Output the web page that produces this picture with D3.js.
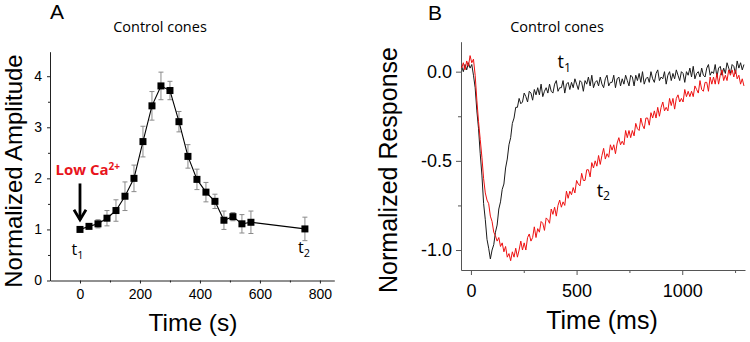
<!DOCTYPE html>
<html><head><meta charset="utf-8">
<script src="https://cdn.jsdelivr.net/npm/d3@7"></script>
<style>body{margin:0;background:#fff}svg{display:block}</style>
</head><body><svg id="c" width="750" height="342"></svg>
<script>
// ---------- Panel A data ----------
const ampTime  = [0,30,60,90,120,150,180,210,240,270,300,330,360,390,420,450,480,510,540,570,750];
const ampValue = [1.00,1.06,1.11,1.22,1.37,1.65,2.00,2.72,3.42,3.81,3.72,3.11,2.43,1.98,1.73,1.55,1.18,1.25,1.11,1.14,1.01];
const ampError = [0.02,0.03,0.08,0.15,0.21,0.28,0.26,0.30,0.28,0.27,0.18,0.20,0.23,0.20,0.19,0.14,0.18,0.08,0.18,0.22,0.23];
const ampXTicks = [0,200,400,600,800];
const ampXMinor = [100,300,500,700];
const ampYTicks = [0,1,2,3,4];
const ampYMinor = [0.5,1.5,2.5,3.5];

// ---------- Panel B data ----------
const respTimeStart = -44, respTimeStep = 8;   // ms, sampling grid
const respT1 = [0.03,0.00,0.04,0.01,0.05,0.02,0.04,-0.02,-0.09,-0.22,
-0.32,-0.46,-0.58,-0.74,-0.83,-0.94,-0.99,-1.05,-1.00,-0.97,
-0.90,-0.86,-0.77,-0.73,-0.66,-0.63,-0.54,-0.49,-0.41,-0.37,
-0.29,-0.26,-0.20,-0.20,-0.15,-0.18,-0.17,-0.12,-0.14,-0.17,
-0.11,-0.12,-0.16,-0.10,-0.13,-0.09,-0.13,-0.07,-0.14,-0.11,
-0.09,-0.12,-0.07,-0.11,-0.12,-0.07,-0.05,-0.11,-0.09,-0.09,
-0.05,-0.12,-0.07,-0.06,-0.10,-0.06,-0.09,-0.04,-0.07,-0.10,
-0.05,-0.06,-0.11,-0.05,-0.07,-0.03,-0.08,-0.02,-0.09,-0.06,
-0.05,-0.08,-0.03,-0.07,-0.09,-0.04,-0.02,-0.08,-0.06,-0.06,
-0.02,-0.09,-0.04,-0.03,-0.08,-0.04,-0.07,-0.02,-0.05,-0.08,
-0.02,-0.03,-0.08,-0.02,-0.05,-0.01,-0.06,0.00,-0.07,-0.04,
-0.03,-0.06,0.00,-0.04,-0.06,-0.01,0.01,-0.05,-0.03,-0.04,
0.00,-0.07,-0.02,0.00,-0.05,-0.01,-0.04,0.01,-0.02,-0.05,
0.00,-0.01,-0.06,0.00,-0.02,0.02,-0.03,0.03,-0.04,-0.01,
0.00,-0.03,0.02,-0.02,-0.03,0.02,0.04,-0.02,0.00,-0.01,
0.04,-0.03,0.02,0.03,-0.02,0.02,-0.01,0.05,0.02,-0.01,
0.04,0.03,-0.01,0.06,0.02,0.05,0.01,0.04];
const respT2 = [0.02,0.05,0.01,0.06,0.03,0.09,0.05,0.07,-0.02,-0.16,
-0.28,-0.38,-0.48,-0.60,-0.68,-0.72,-0.74,-0.81,-0.84,-0.90,
-0.92,-0.95,-0.93,-0.98,-0.96,-1.01,-0.98,-1.04,-1.02,-1.06,
-1.01,-1.04,-0.99,-1.04,-1.00,-0.95,-1.00,-0.96,-1.00,-0.93,
-0.91,-0.95,-0.93,-0.87,-0.93,-0.88,-0.90,-0.84,-0.85,-0.89,
-0.82,-0.83,-0.85,-0.77,-0.80,-0.76,-0.81,-0.75,-0.72,-0.76,
-0.73,-0.75,-0.67,-0.71,-0.67,-0.69,-0.65,-0.68,-0.61,-0.63,
-0.64,-0.57,-0.61,-0.61,-0.55,-0.55,-0.59,-0.51,-0.54,-0.50,
-0.53,-0.47,-0.52,-0.47,-0.43,-0.49,-0.46,-0.48,-0.41,-0.44,
-0.41,-0.46,-0.40,-0.37,-0.41,-0.39,-0.41,-0.33,-0.37,-0.33,
-0.37,-0.33,-0.36,-0.29,-0.32,-0.33,-0.26,-0.30,-0.32,-0.26,
-0.26,-0.30,-0.23,-0.26,-0.22,-0.26,-0.20,-0.25,-0.20,-0.17,
-0.22,-0.20,-0.22,-0.15,-0.19,-0.15,-0.21,-0.15,-0.13,-0.17,
-0.15,-0.17,-0.10,-0.14,-0.11,-0.14,-0.11,-0.14,-0.08,-0.10,
-0.12,-0.05,-0.10,-0.11,-0.06,-0.06,-0.11,-0.03,-0.07,-0.03,
-0.07,-0.01,-0.07,-0.02,0.01,-0.05,-0.02,-0.05,0.01,-0.02,
0.01,-0.03,0.01,-0.04,-0.02,-0.07,-0.04,-0.08];
const respXTicks = [0,500,1000];
const respXMinor = [250,750,1250];
const respYTicks = [0,-0.5,-1.0];
const respYMinor = [-0.25,-0.75];

const SANS = "'Liberation Sans', Arial, sans-serif";
const CAL = "'Open Sans', sans-serif";
const svg = d3.select("#c");

function styleAxis(g, fs, col) {
  g.attr("font-family", SANS).attr("font-size", fs);
  g.select(".domain").attr("stroke", col);
  g.selectAll(".tick line").attr("stroke", col);
  g.selectAll(".tick text").attr("fill", "#000");
}
function minorAxis(g) { g.select(".domain").remove(); }

// ================= Panel A =================
const xA = d3.scaleLinear().domain([-100, 848]).range([50, 334.3]);
const yA = d3.scaleLinear().domain([0, 4.48]).range([280.5, 51.7]);
const gA = svg.append("g");

gA.append("g").attr("transform", `translate(0,${yA(0)})`)
  .call(d3.axisBottom(xA).tickValues(ampXMinor).tickSize(2).tickFormat("")).call(minorAxis)
  .call(g => g.selectAll("line").attr("stroke", "#222"));
gA.append("g").attr("transform", `translate(${xA(-100)},0)`)
  .call(d3.axisLeft(yA).tickValues(ampYMinor).tickSize(2).tickFormat("")).call(minorAxis)
  .call(g => g.selectAll("line").attr("stroke", "#222"));
gA.append("g").attr("transform", `translate(0,${yA(0)})`)
  .call(d3.axisBottom(xA).tickValues(ampXTicks).tickFormat(d3.format("d")).tickSize(3).tickPadding(6).tickSizeOuter(0))
  .call(g => styleAxis(g, 14, "#222"));
gA.append("g").attr("transform", `translate(${xA(-100)},0)`)
  .call(d3.axisLeft(yA).tickValues(ampYTicks).tickFormat(d3.format("d")).tickSize(3).tickPadding(5).tickSizeOuter(0))
  .call(g => styleAxis(g, 14, "#222"));

// error bars
const eb = gA.append("g").attr("stroke", "#8a8a8a").attr("stroke-width", 1);
ampTime.forEach((t, i) => {
  const x = xA(t), y1 = yA(ampValue[i] - ampError[i]), y2 = yA(ampValue[i] + ampError[i]);
  eb.append("line").attr("x1", x).attr("x2", x).attr("y1", y1).attr("y2", y2);
  eb.append("line").attr("x1", x - 2.5).attr("x2", x + 2.5).attr("y1", y1).attr("y2", y1);
  eb.append("line").attr("x1", x - 2.5).attr("x2", x + 2.5).attr("y1", y2).attr("y2", y2);
});
// line
gA.append("path").datum(ampTime.map((t, i) => [t, ampValue[i]]))
  .attr("fill", "none").attr("stroke", "#000").attr("stroke-width", 1.1)
  .attr("d", d3.line().x(d => xA(d[0])).y(d => yA(d[1])));
// markers
gA.selectAll("rect.m").data(ampTime).join("rect").attr("class", "m")
  .attr("x", t => xA(t) - 3.5).attr("y", (t, i) => yA(ampValue[i]) - 3.5)
  .attr("width", 7).attr("height", 7).attr("fill", "#000");

// labels A
svg.append("text").attr("x", 50).attr("y", 19).attr("font-family", SANS).attr("font-size", 21).text("A");
svg.append("text").attr("x", 160).attr("y", 32).attr("text-anchor", "middle")
  .attr("font-family", CAL).attr("font-size", 14.5).text("Control cones");
svg.append("text").attr("transform", "translate(22,171) rotate(-90)").attr("text-anchor", "middle")
  .attr("font-family", SANS).attr("font-size", 24).text("Normalized Amplitude");
svg.append("text").attr("x", 193).attr("y", 331).attr("text-anchor", "middle")
  .attr("font-family", SANS).attr("font-size", 24.5).text("Time (s)");

// Low Ca2+ annotation
const lowCa = svg.append("text").attr("x", xA(0) - 24.5).attr("y", yA(2.06))
  .attr("font-family", CAL).attr("font-weight", "bold").attr("font-size", 15).attr("fill", "#e8141c");
lowCa.append("tspan").text("Low Ca");
lowCa.append("tspan").attr("font-size", 10).attr("dy", -5).text("2+");
// arrow
const ax = xA(0);
svg.append("line").attr("x1", ax).attr("x2", ax).attr("y1", yA(1.90)).attr("y2", yA(1.19))
  .attr("stroke", "#000").attr("stroke-width", 2.8);
svg.append("polyline")
  .attr("points", `${ax - 6},${yA(1.19) - 10} ${ax},${yA(1.19)} ${ax + 6},${yA(1.19) - 10}`)
  .attr("fill", "none").attr("stroke", "#000").attr("stroke-width", 2.8).attr("stroke-linejoin", "miter");

function tLabel(x, y, sub, fs) {
  const t = svg.append("text").attr("x", x).attr("y", y).attr("font-family", CAL).attr("font-size", fs);
  t.append("tspan").text("t");
  t.append("tspan").attr("font-size", fs * 0.68).attr("dy", fs * 0.22).text(sub);
}
tLabel(xA(-28), yA(0.49), "1", 16);
tLabel(xA(727), yA(0.53), "2", 16);

// ================= Panel B =================
const xB = d3.scaleLinear().domain([-47, 1297]).range([461, 745]);
const yB = d3.scaleLinear().domain([-1.112, 0.168]).range([270, 41.7]);
const gB = svg.append("g");

gB.append("g").attr("transform", `translate(0,${yB(-1.112)})`)
  .call(d3.axisBottom(xB).tickValues(respXMinor).tickSize(3).tickFormat("")).call(minorAxis)
  .call(g => g.selectAll("line").attr("stroke", "#555"));
gB.append("g").attr("transform", `translate(${xB(-47)},0)`)
  .call(d3.axisLeft(yB).tickValues(respYMinor).tickSize(3).tickFormat("")).call(minorAxis)
  .call(g => g.selectAll("line").attr("stroke", "#555"));
gB.append("g").attr("transform", `translate(0,${yB(-1.112)})`)
  .call(d3.axisBottom(xB).tickValues(respXTicks).tickFormat(d3.format("d")).tickSize(5).tickPadding(9).tickSizeOuter(0))
  .call(g => styleAxis(g, 18, "#555"));
gB.append("g").attr("transform", `translate(${xB(-47)},0)`)
  .call(d3.axisLeft(yB).tickValues(respYTicks).tickSize(5).tickPadding(4).tickSizeOuter(0)
    .tickFormat(d => d.toFixed(1)))
  .call(g => styleAxis(g, 18, "#555"));

const lineB = d3.line().x((d, i) => xB(respTimeStart + i * respTimeStep)).y(d => yB(d));
gB.append("path").datum(respT1).attr("fill", "none").attr("stroke", "#1a1a1a")
  .attr("stroke-width", 1).attr("d", lineB);
gB.append("path").datum(respT2).attr("fill", "none").attr("stroke", "#ee1111")
  .attr("stroke-width", 1).attr("d", lineB);

svg.append("text").attr("x", 428).attr("y", 20).attr("font-family", SANS).attr("font-size", 21).text("B");
svg.append("text").attr("x", 557).attr("y", 32).attr("text-anchor", "middle")
  .attr("font-family", CAL).attr("font-size", 14.5).text("Control cones");
svg.append("text").attr("transform", "translate(397,170) rotate(-90)").attr("text-anchor", "middle")
  .attr("font-family", SANS).attr("font-size", 25).text("Normalized Response");
svg.append("text").attr("x", 602).attr("y", 329).attr("text-anchor", "middle")
  .attr("font-family", SANS).attr("font-size", 25).text("Time (ms)");

tLabel(xB(410), yB(0.02), "1", 18);
tLabel(xB(595), yB(-0.70), "2", 18);
</script></body></html>
